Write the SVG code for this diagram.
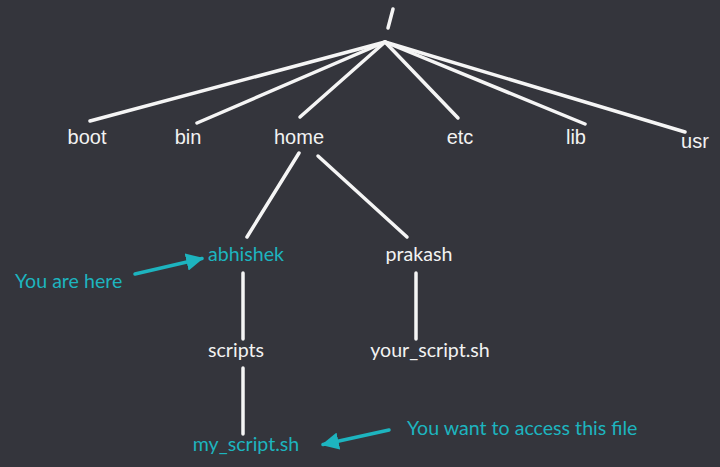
<svg xmlns="http://www.w3.org/2000/svg" width="720" height="467" viewBox="0 0 720 467">
<style>
.bg{fill:#34353c}
.top{font-family:"Liberation Sans",Arial,sans-serif;font-size:20px;fill:#f2f2f2;text-anchor:middle}
.lbl{font-family:Lato,"Noto Sans",sans-serif;font-size:19.6px;fill:#f2f2f2;text-anchor:middle}
.teal{fill:#1db4bf}
.ann{font-family:Lato,"Noto Sans",sans-serif;font-size:19.6px;fill:#1db4bf}
.edge{stroke:#f5f5f5;stroke-width:3.5;stroke-linecap:round;fill:none}
.arrow{stroke:#1db4bf;stroke-width:3.5;stroke-linecap:round;fill:none}
</style>
<defs>
<marker id="ah" viewBox="0 0 10 10" refX="9" refY="5" markerWidth="5" markerHeight="5" orient="auto" markerUnits="strokeWidth">
<path d="M0,0 L10,5 L0,10 z" fill="#1db4bf"/>
</marker>
</defs>
<rect class="bg" x="0" y="0" width="720" height="467"/>
<g id="connectors">
<line class="edge" x1="385" y1="42" x2="90" y2="121"/>
<line class="edge" x1="385" y1="42" x2="197" y2="123"/>
<line class="edge" x1="385" y1="42" x2="300" y2="117"/>
<line class="edge" x1="385" y1="42" x2="458" y2="118"/>
<line class="edge" x1="385" y1="42" x2="585" y2="124"/>
<line class="edge" x1="385" y1="42" x2="685" y2="132"/>
<line class="edge" x1="299" y1="153" x2="247" y2="237"/>
<line class="edge" x1="318" y1="156" x2="407" y2="237"/>
<line class="edge" x1="243" y1="273" x2="243" y2="339"/>
<line class="edge" x1="416" y1="273" x2="416" y2="339"/>
<line class="edge" x1="243" y1="368" x2="243" y2="434"/>
<line class="arrow" x1="135" y1="274" x2="202" y2="258.5" marker-end="url(#ah)"/>
<line class="arrow" x1="389" y1="430" x2="323" y2="444.5" marker-end="url(#ah)"/>
</g>
<g id="root"><line x1="393" y1="9" x2="388" y2="28" stroke="#f5f5f5" stroke-width="3.5" stroke-linecap="round"/></g>
<g id="boot"><text class="top" x="87" y="144">boot</text></g>
<g id="bin"><text class="top" x="188" y="144">bin</text></g>
<g id="home"><text class="top" x="299" y="144">home</text></g>
<g id="etc"><text class="top" x="460" y="144">etc</text></g>
<g id="lib"><text class="top" x="576" y="144">lib</text></g>
<g id="usr"><text class="top" x="695" y="148">usr</text></g>
<g id="abhishek"><text class="lbl teal" x="246" y="261">abhishek</text></g>
<g id="prakash"><text class="lbl" x="419" y="261">prakash</text></g>
<g id="scripts"><text class="lbl" x="236" y="357">scripts</text></g>
<g id="your_script"><text class="lbl" x="430" y="357">your_script.sh</text></g>
<g id="my_script"><text class="lbl teal" x="246" y="451">my_script.sh</text></g>
<g id="you-are-here"><text class="ann" x="15" y="288">You are here</text></g>
<g id="you-want"><text class="ann" x="407" y="435">You want to access this file</text></g>
</svg>
